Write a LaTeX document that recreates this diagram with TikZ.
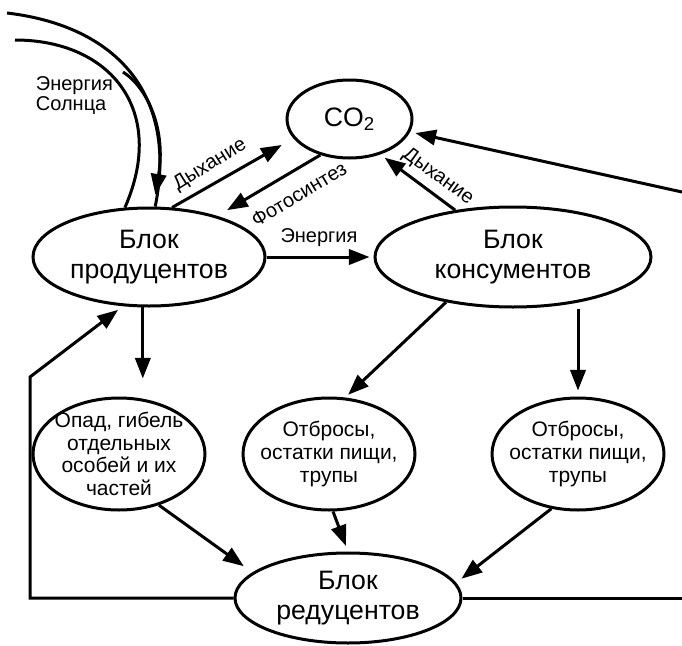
\documentclass[tikz,border=0pt]{standalone}
\usepackage{fontspec}
\setmainfont{Liberation Sans}
\usetikzlibrary{shapes.geometric,arrows.meta}
\begin{document}
\begin{tikzpicture}[x=0.75pt,y=-0.75pt,
  line width=2.25pt,
  blk/.style={draw,ellipse,inner sep=0pt,line width=2.25pt},
  big/.style={font=\fontsize{20}{22.5}\selectfont,align=center},
  mid/.style={font=\fontsize{15.75}{17}\selectfont,align=center},
  lbl/.style={font=\fontsize{15}{15}\selectfont},
  arr/.style={-{Triangle[length=15.5pt,width=11.5pt]}},
]
\useasboundingbox (0,0) rectangle (682,646);
% blocks
\node[blk,big,minimum width=174pt,minimum height=73.5pt] (prod) at (149,257) {Блок\\продуцентов};
\node[blk,big,minimum width=207pt,minimum height=75pt] (cons) at (513,257) {Блок\\консументов};
\node[blk,big,minimum width=93.75pt,minimum height=58.5pt] (co2) at (349.5,119) {CO\textsubscript{2}};
\node[blk,minimum width=129pt,minimum height=84pt,label={[mid]center:Опад, гибель\\отдельных\\особей и их\\частей}] (opad) at (119,454) {};
\node[blk,minimum width=129pt,minimum height=84pt,label={[mid]center:Отбросы,\\остатки пищи,\\трупы}] (otb1) at (329,454) {};
\node[blk,minimum width=129pt,minimum height=84pt,label={[mid]center:Отбросы,\\остатки пищи,\\трупы}] (otb2) at (578,454) {};
\node[blk,big,minimum width=169.5pt,minimum height=67.5pt] (red) at (348,598) {Блок\\редуцентов};
% sun
\coordinate (sA) at (7,13);
\coordinate (sB) at (15,40);
\coordinate (sC) at (123,72);
\draw (sA) .. controls (117,26) and (178,95) .. (prod.83);
\draw (sB) .. controls (110,40) and (167.75,110) .. (prod.116);
\draw[arr,shorten >=9pt] (sC) .. controls (148,88) and (166,130) .. (prod.85);
\node[lbl,align=left,anchor=west] (sun) at (30,96) {Энергия\\Солнца};
% CO2 exchange
\draw[arr,shorten >=10pt] (prod.65) -- (co2.199);
\draw[arr,shorten >=8.5pt] (co2.231) -- (prod.31);
\draw[arr,shorten >=4pt] (cons.141) -- (co2.-49);
\coordinate (rtop) at (682,192);
\draw[arr,shorten >=4pt] (rtop) -- (co2.-12);
\node[lbl,rotate=32] (d1) at (210,165) {Дыхание};
\node[lbl,rotate=31] (ph) at (299,194) {Фотосинтез};
\node[lbl,rotate=-36] (d2) at (438,177) {Дыхание};
% energy
\draw[arr,shorten >=3pt] (prod.east) -- (cons.west);
\node[lbl] (en) at (319,238) {Энергия};
% down
\draw[arr,shorten >=13.5pt] (prod.263) -- (prod.263 |- opad.north);
\draw[arr,shorten >=3pt] (cons.214.7) -- (otb1.74);
\draw[arr,shorten >=4.5pt] (cons.south -| otb2) -- (otb2.north);
\draw[arr,shorten >=8pt] (opad.-52) -- (red.165);
\draw[arr,shorten >=4.5pt] (otb1.-86) -- (red.north);
\draw[arr,shorten >=5pt] (otb2.244) -- (red.8);
% return loops
\coordinate (lc) at (30,377);
\draw[arr,shorten >=4.5pt] (red.west) -| (lc) -- (prod.242.5);
\coordinate (rbot) at (682,598);
\draw (red.east) -- (rbot);
\end{tikzpicture}
\end{document}
